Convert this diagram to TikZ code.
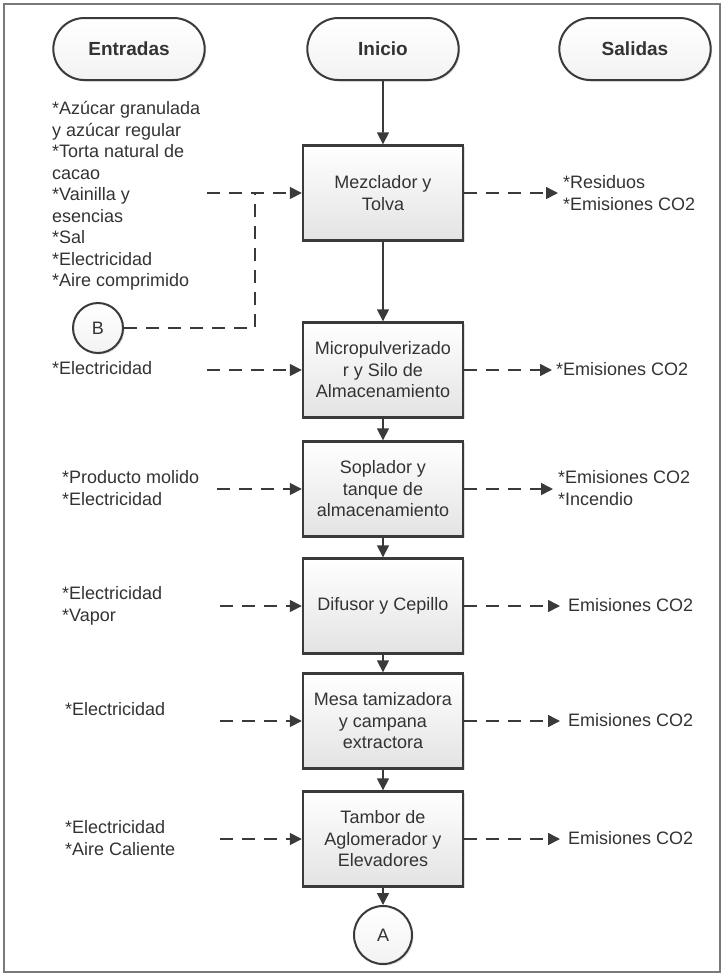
\documentclass[tikz,border=0pt]{standalone}
\usepackage{fontspec}
\setmainfont{Liberation Sans}
\usetikzlibrary{arrows.meta,shadows,shapes.misc}
\definecolor{ink}{HTML}{333333}
\definecolor{edge}{HTML}{3A3A3A}
\definecolor{framegray}{HTML}{7A7A7A}
\begin{document}
\begin{tikzpicture}[x=1pt,y=-1pt,
  txt/.style={font=\fontsize{18}{21.5}\selectfont, text=ink, inner sep=0pt, align=left, anchor=west},
  term/.style={draw=edge, line width=2pt, rounded rectangle, minimum width=158pt, minimum height=62pt,
    top color=white, bottom color=gray!10, drop shadow={opacity=0.25, shadow xshift=1.5pt, shadow yshift=-1.5pt},
    font=\bfseries\fontsize{19}{22}\selectfont, text=ink},
  procbox/.style={draw=edge, line width=2.4pt, rectangle, minimum width=160pt, minimum height=95pt,
    top color=white, bottom color=gray!22, drop shadow={opacity=0.25, shadow xshift=1.5pt, shadow yshift=-1.5pt},
    align=center, font=\fontsize{18}{21.5}\selectfont, text=ink, inner sep=2pt},
  conn/.style={draw=edge, line width=2pt, circle, minimum size=52pt, inner sep=0pt,
    top color=white, bottom color=gray!10, drop shadow={opacity=0.25, shadow xshift=1.5pt, shadow yshift=-1.5pt},
    font=\fontsize{18}{21.5}\selectfont, text=ink},
  flow/.style={draw=edge, line width=1.6pt, -{Triangle[length=12pt,width=12pt]}},
  dashline/.style={draw=edge, line width=1.6pt, dash pattern=on 13pt off 9pt},
  dasharrow/.style={dashline, -{Triangle[length=12pt,width=12pt]}},
]
\useasboundingbox (0,0) rectangle (723,975);

% outer frame
\draw[framegray, line width=2pt] (3.5,4) rectangle (719.5,972);

% column headers
\node[term] (ent) at (129,49) {Entradas};
\node[term] (ini) at (383,49) {Inicio};
\node[term] (sal) at (635,49) {Salidas};

% process steps
\node[procbox] (mez) at (383,193) {Mezclador y\\Tolva};
\node[procbox] (mic) at (383,370) {Micropulverizado\\r y Silo de\\Almacenamiento};
\node[procbox] (sop) at (383,489) {Soplador y\\tanque de\\almacenamiento};
\node[procbox] (dif) at (383,606) {Difusor y Cepillo};
\node[procbox] (mes) at (383,721) {Mesa tamizadora\\y campana\\extractora};
\node[procbox] (tam) at (383,839) {Tambor de\\Aglomerador y\\Elevadores};

% off-page connectors
\node[conn, minimum size=50pt] (B) at (98,328) {B};
\node[conn, minimum size=58pt] (A) at (383,935) {A};

% main flow
\draw[flow] (ini) -- (mez);
\draw[flow] (mez) -- (mic);
\draw[flow] (mic) -- (sop);
\draw[flow] (sop) -- (dif);
\draw[flow] (dif) -- (mes);
\draw[flow] (mes) -- (tam);
\draw[flow] (tam) -- (A);

% inputs
\node[txt] (in1) at (52,196) {*Azúcar granulada\\y azúcar regular\\*Torta natural de\\cacao\\*Vainilla y\\esencias\\*Sal\\*Electricidad\\*Aire comprimido};
\node[txt] (in2) at (52,368) {*Electricidad};
\node[txt] (in3) at (62,488) {*Producto molido\\*Electricidad};
\node[txt] (in4) at (62,606) {*Electricidad\\*Vapor};
\node[txt] (in5) at (65,709) {*Electricidad};
\node[txt] (in6) at (65,838) {*Electricidad\\*Aire Caliente};

\coordinate (s1) at (207,193);
\coordinate (s2) at (207,370);
\coordinate (s3) at (217,489);
\coordinate (s4) at (220,606);
\coordinate (s5) at (220,721);
\coordinate (s6) at (220,839);
\coordinate (bk) at (255,328);
\coordinate (bj) at (255,193);

\draw[dasharrow] (s1) -- (mez.west);
\draw[dashline] (B.east) -- (bk) -- (bj);
\draw[dasharrow] (s2) -- (mic.west);
\draw[dasharrow] (s3) -- (sop.west);
\draw[dasharrow] (s4) -- (dif.west);
\draw[dasharrow] (s5) -- (mes.west);
\draw[dasharrow] (s6) -- (tam.west);

% outputs
\coordinate (e1) at (558,193);
\coordinate (e2) at (552,370);
\coordinate (e3) at (553,489);
\coordinate (e4) at (560,606);
\coordinate (e5) at (560,721);
\coordinate (e6) at (560,839);

\draw[dasharrow] (mez.east) -- (e1);
\draw[dasharrow] (mic.east) -- (e2);
\draw[dasharrow] (sop.east) -- (e3);
\draw[dasharrow] (dif.east) -- (e4);
\draw[dasharrow] (mes.east) -- (e5);
\draw[dasharrow] (tam.east) -- (e6);

\node[txt] (out1) at (563,193) {*Residuos\\*Emisiones CO2};
\node[txt] (out2) at (556,369) {*Emisiones CO2};
\node[txt] (out3) at (558,488) {*Emisiones CO2\\*Incendio};
\node[txt] (out4) at (568,605) {Emisiones CO2};
\node[txt] (out5) at (568,720) {Emisiones CO2};
\node[txt] (out6) at (568,838) {Emisiones CO2};
\end{tikzpicture}
\end{document}
